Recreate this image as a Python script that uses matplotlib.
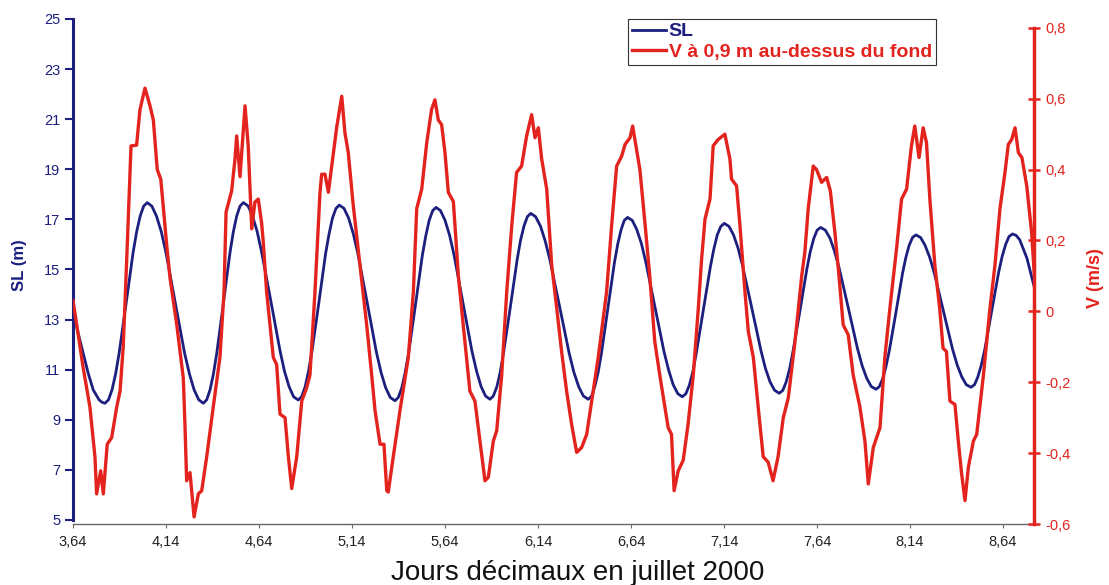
import matplotlib
matplotlib.use('Agg')
import matplotlib.pyplot as plt

plt.rcParams['font.family'] = ['Liberation Sans', 'DejaVu Sans']

# Hauteur d'eau SL (m)
sl_day = [3.640, 3.668, 3.695, 3.722, 3.749, 3.780, 3.796, 3.812,
          3.831, 3.850, 3.869, 3.888, 3.926, 3.963, 3.982, 4.001, 4.020, 4.039,
          4.064, 4.089, 4.115, 4.140, 4.190, 4.240, 4.266, 4.291, 4.316, 4.341,
          4.359, 4.377, 4.395, 4.413, 4.449, 4.484, 4.502, 4.520, 4.538, 4.556,
          4.581, 4.605, 4.630, 4.654, 4.704, 4.753, 4.777, 4.802, 4.826, 4.851,
          4.869, 4.888, 4.906, 4.925, 4.962, 4.998, 5.017, 5.035, 5.054, 5.072,
          5.097, 5.122, 5.147, 5.172, 5.222, 5.271, 5.296, 5.321, 5.346, 5.371,
          5.389, 5.408, 5.426, 5.445, 5.482, 5.518, 5.537, 5.555, 5.574, 5.592,
          5.616, 5.640, 5.665, 5.689, 5.737, 5.785, 5.810, 5.834, 5.858, 5.882,
          5.900, 5.919, 5.937, 5.955, 5.992, 6.028, 6.046, 6.065, 6.083, 6.101,
          6.127, 6.153, 6.178, 6.204, 6.256, 6.307, 6.333, 6.359, 6.384, 6.410,
          6.428, 6.445, 6.463, 6.481, 6.516, 6.551, 6.569, 6.587, 6.604, 6.622,
          6.647, 6.671, 6.696, 6.720, 6.769, 6.818, 6.843, 6.867, 6.892, 6.916,
          6.935, 6.954, 6.973, 6.991, 7.029, 7.067, 7.086, 7.104, 7.123, 7.142,
          7.167, 7.191, 7.216, 7.240, 7.290, 7.339, 7.363, 7.388, 7.412, 7.437,
          7.456, 7.474, 7.493, 7.511, 7.549, 7.586, 7.604, 7.623, 7.641, 7.660,
          7.685, 7.710, 7.734, 7.759, 7.809, 7.858, 7.883, 7.908, 7.932, 7.957,
          7.975, 7.993, 8.011, 8.029, 8.065, 8.100, 8.118, 8.136, 8.154, 8.172,
          8.197, 8.221, 8.246, 8.271, 8.320, 8.369, 8.394, 8.419, 8.443, 8.468,
          8.487, 8.505, 8.524, 8.543, 8.580, 8.617, 8.636, 8.655, 8.673, 8.692,
          8.711, 8.730, 8.769, 8.808]
sl_m = [13.35, 12.45, 11.65, 10.85, 10.19, 9.80, 9.70, 9.66,
        9.80, 10.20, 10.83, 11.66, 13.67, 15.67, 16.50, 17.13, 17.53, 17.67,
        17.53, 17.13, 16.50, 15.67, 13.67, 11.66, 10.83, 10.20, 9.80, 9.66,
        9.80, 10.20, 10.83, 11.66, 13.67, 15.67, 16.50, 17.13, 17.53, 17.67,
        17.54, 17.14, 16.52, 15.70, 13.73, 11.76, 10.94, 10.32, 9.92, 9.79,
        9.92, 10.31, 10.93, 11.74, 13.68, 15.63, 16.43, 17.05, 17.44, 17.57,
        17.44, 17.05, 16.43, 15.62, 13.67, 11.71, 10.90, 10.28, 9.89, 9.76,
        9.89, 10.28, 10.89, 11.69, 13.62, 15.55, 16.35, 16.96, 17.35, 17.48,
        17.35, 16.97, 16.36, 15.57, 13.65, 11.74, 10.94, 10.33, 9.95, 9.82,
        9.95, 10.32, 10.90, 11.68, 13.53, 15.39, 16.16, 16.74, 17.11, 17.24,
        17.11, 16.74, 16.16, 15.39, 13.53, 11.68, 10.90, 10.32, 9.95, 9.82,
        9.94, 10.31, 10.88, 11.64, 13.45, 15.27, 16.02, 16.59, 16.96, 17.08,
        16.96, 16.60, 16.04, 15.29, 13.50, 11.71, 10.97, 10.40, 10.04, 9.92,
        10.04, 10.38, 10.93, 11.65, 13.38, 15.11, 15.83, 16.38, 16.72, 16.84,
        16.72, 16.39, 15.85, 15.15, 13.45, 11.76, 11.05, 10.51, 10.18, 10.06,
        10.17, 10.50, 11.03, 11.72, 13.37, 15.03, 15.71, 16.24, 16.57, 16.68,
        16.57, 16.25, 15.74, 15.07, 13.45, 11.84, 11.16, 10.65, 10.33, 10.22,
        10.32, 10.63, 11.12, 11.76, 13.30, 14.84, 15.48, 15.97, 16.28, 16.38,
        16.28, 15.97, 15.49, 14.86, 13.34, 11.82, 11.19, 10.71, 10.40, 10.30,
        10.40, 10.71, 11.19, 11.83, 13.36, 14.89, 15.53, 16.01, 16.32, 16.42,
        16.36, 16.19, 15.45, 14.31]

# Vitesse V (m/s) a 0,9 m au-dessus du fond
v_day = [3.640, 3.660, 3.695, 3.731, 3.758, 3.767, 3.789, 3.803, 3.824, 3.848,
         3.875, 3.893, 3.910, 3.929, 3.952, 3.982, 4.000, 4.027, 4.054, 4.072,
         4.093, 4.112, 4.144, 4.162, 4.198, 4.233, 4.242, 4.251, 4.269, 4.291,
         4.314, 4.332, 4.359, 4.394, 4.430, 4.452, 4.463, 4.493, 4.511, 4.520,
         4.538, 4.547, 4.565, 4.582, 4.601, 4.618, 4.636, 4.654, 4.663, 4.681,
         4.717, 4.735, 4.753, 4.780, 4.798, 4.816, 4.843, 4.870, 4.896, 4.914,
         4.941, 4.968, 4.977, 4.995, 5.013, 5.031, 5.058, 5.085, 5.102, 5.120,
         5.147, 5.183, 5.219, 5.246, 5.264, 5.291, 5.312, 5.327, 5.335, 5.362,
         5.398, 5.443, 5.470, 5.488, 5.515, 5.542, 5.568, 5.586, 5.604, 5.622,
         5.640, 5.658, 5.685, 5.712, 5.738, 5.774, 5.801, 5.828, 5.855, 5.873,
         5.900, 5.918, 5.945, 5.972, 5.999, 6.025, 6.052, 6.079, 6.106, 6.124,
         6.142, 6.160, 6.187, 6.214, 6.241, 6.267, 6.294, 6.321, 6.348, 6.375,
         6.402, 6.429, 6.464, 6.509, 6.536, 6.563, 6.590, 6.608, 6.635, 6.649,
         6.661, 6.688, 6.715, 6.741, 6.768, 6.795, 6.822, 6.840, 6.858, 6.872,
         6.894, 6.921, 6.947, 6.975, 7.002, 7.020, 7.038, 7.065, 7.082, 7.109,
         7.145, 7.172, 7.181, 7.208, 7.226, 7.253, 7.271, 7.298, 7.324, 7.351,
         7.378, 7.404, 7.431, 7.459, 7.486, 7.522, 7.558, 7.575, 7.593, 7.620,
         7.638, 7.665, 7.692, 7.712, 7.737, 7.755, 7.781, 7.808, 7.835, 7.871,
         7.898, 7.916, 7.943, 7.979, 8.005, 8.032, 8.068, 8.095, 8.122, 8.148,
         8.166, 8.189, 8.211, 8.229, 8.247, 8.274, 8.300, 8.318, 8.336, 8.355,
         8.382, 8.400, 8.418, 8.436, 8.454, 8.481, 8.499, 8.535, 8.570, 8.597,
         8.624, 8.651, 8.669, 8.687, 8.705, 8.723, 8.742, 8.768, 8.794, 8.808]
v_ms = [0.03, -0.038, -0.16, -0.27, -0.41, -0.515, -0.45, -0.515, -0.375, -0.356,
        -0.27, -0.225, -0.10, 0.149, 0.467, 0.469, 0.569, 0.63, 0.58, 0.54,
        0.40, 0.373, 0.186, 0.093, -0.038, -0.188, -0.32, -0.478, -0.455, -0.58,
        -0.515, -0.506, -0.41, -0.27, -0.13, 0.056, 0.28, 0.34, 0.43, 0.495,
        0.38, 0.448, 0.58, 0.467, 0.233, 0.308, 0.317, 0.25, 0.196, 0.055,
        -0.13, -0.15, -0.29, -0.30, -0.41, -0.50, -0.41, -0.253, -0.216, -0.18,
        0.055, 0.336, 0.387, 0.387, 0.336, 0.41, 0.52, 0.607, 0.504, 0.448,
        0.298, 0.13, -0.038, -0.18, -0.28, -0.375, -0.375, -0.506, -0.51, -0.41,
        -0.28, -0.13, 0.055, 0.29, 0.345, 0.476, 0.57, 0.597, 0.54, 0.527,
        0.448, 0.336, 0.31, 0.10, -0.038, -0.225, -0.253, -0.366, -0.478, -0.468,
        -0.366, -0.337, -0.18, 0.055, 0.242, 0.392, 0.41, 0.495, 0.555, 0.49,
        0.518, 0.43, 0.345, 0.13, 0.008, -0.113, -0.225, -0.319, -0.398, -0.384,
        -0.347, -0.253, -0.13, 0.055, 0.242, 0.41, 0.438, 0.471, 0.49, 0.523,
        0.485, 0.40, 0.25, 0.10, -0.085, -0.18, -0.27, -0.328, -0.347, -0.506,
        -0.45, -0.42, -0.319, -0.18, 0.008, 0.149, 0.26, 0.317, 0.467, 0.485,
        0.50, 0.43, 0.373, 0.354, 0.242, 0.055, -0.057, -0.13, -0.27, -0.41,
        -0.426, -0.478, -0.41, -0.30, -0.244, -0.085, 0.10, 0.167, 0.29, 0.41,
        0.40, 0.364, 0.378, 0.34, 0.22, 0.12, -0.038, -0.066, -0.18, -0.27,
        -0.366, -0.487, -0.384, -0.328, -0.13, 0.008, 0.177, 0.317, 0.345, 0.467,
        0.523, 0.434, 0.518, 0.476, 0.317, 0.13, 0.008, -0.104, -0.113, -0.253,
        -0.263, -0.366, -0.459, -0.534, -0.44, -0.366, -0.347, -0.18, 0.008, 0.13,
        0.29, 0.392, 0.471, 0.485, 0.518, 0.448, 0.434, 0.354, 0.224, 0.11]

day_ticks = [3.64, 4.14, 4.64, 5.14, 5.64, 6.14, 6.64, 7.14, 7.64, 8.14, 8.64]
day_labels = ['3,64', '4,14', '4,64', '5,14', '5,64', '6,14', '6,64', '7,14', '7,64', '8,14', '8,64']
sl_ticks = [5, 7, 9, 11, 13, 15, 17, 19, 21, 23, 25]
v_ticks = [-0.6, -0.4, -0.2, 0, 0.2, 0.4, 0.6, 0.8]
v_labels = ['-0,6', '-0,4', '-0,2', '0', '0,2', '0,4', '0,6', '0,8']

NAVY = '#1c1f7e'
RED = '#e3231d'

fig = plt.figure(figsize=(11.09, 5.85), dpi=100)
ax = fig.add_axes([73 / 1109, 61 / 585, 961 / 1109, 505 / 585])

l1, = ax.plot(sl_day, sl_m, color=NAVY, lw=2.0, solid_joinstyle='round', label='SL')
ax.set_xlim(3.64, 8.807)
ax.set_ylim(4.84, 25)
ax.set_xticks(day_ticks)
ax.set_xticklabels(day_labels)
ax.set_yticks(sl_ticks)
ax.set_yticklabels([str(t) for t in sl_ticks])

ax.spines['top'].set_visible(False)
ax.spines['right'].set_visible(False)
ax.spines['left'].set_color(NAVY)
ax.spines['left'].set_linewidth(2.2)
ax.spines['left'].set_bounds(5, 25)
ax.spines['bottom'].set_color('#666666')
ax.spines['bottom'].set_linewidth(1.0)
ax.tick_params(axis='y', colors=NAVY, length=6, width=1.5, labelsize=10.5, pad=3)
ax.tick_params(axis='x', colors='#666666', labelcolor='#222222', length=3, width=0.8,
               labelsize=10.5, pad=5)

ax.set_ylabel('SL (m)', color=NAVY, fontsize=12, fontweight='bold')
ax.yaxis.set_label_coords(-0.048, 0.513)
ax.set_xlabel('Jours décimaux en juillet 2000', fontsize=20, color='#111111')
ax.xaxis.set_label_coords(0.5255, -0.072)

ax2 = ax.twinx()
l2, = ax2.plot(v_day, v_ms, color=RED, lw=2.4, solid_joinstyle='round',
               label='V à 0,9 m au-dessus du fond')
ax2.set_ylim(-0.6, 0.825)
ax2.set_yticks(v_ticks)
ax2.set_yticklabels(v_labels)
for s in ['top', 'left', 'bottom']:
    ax2.spines[s].set_visible(False)
ax2.spines['right'].set_color(RED)
ax2.spines['right'].set_linewidth(2.5)
ax2.spines['right'].set_bounds(-0.6, 0.8)
ax2.tick_params(axis='y', colors=RED, direction='inout', length=9, width=1.8,
                labelsize=10.5, pad=4)
ax2.set_ylabel('V (m/s)', color=RED, fontsize=13, fontweight='bold')
ax2.yaxis.set_label_coords(1.055, 0.487)

leg = ax2.legend(handles=[l1, l2], loc='upper left',
                 bbox_to_anchor=((628 - 73) / 961, 1.0), borderaxespad=0,
                 fancybox=False, edgecolor='#333333', framealpha=1,
                 prop={'weight': 'bold', 'size': 14}, handlelength=1.75,
                 handletextpad=0.15, labelspacing=0.15, borderpad=0.2)
leg.get_frame().set_linewidth(0.8)
for t, c in zip(leg.get_texts(), [NAVY, RED]):
    t.set_color(c)

fig.savefig('out.png', dpi=100)
